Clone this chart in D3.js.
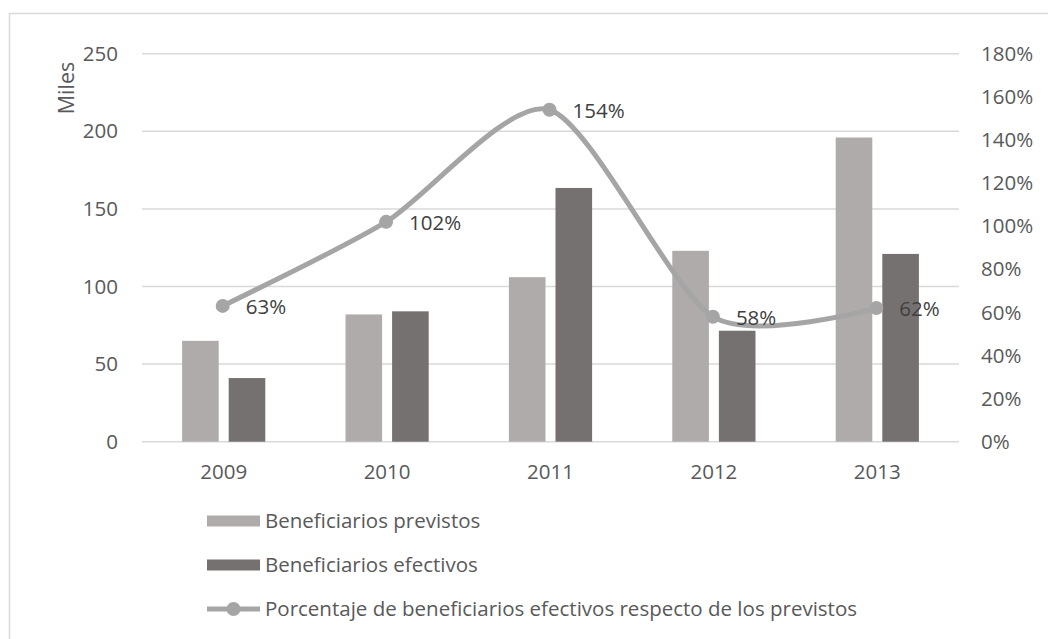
<!DOCTYPE html>
<html lang="es">
<head>
<meta charset="UTF-8">
<title>Beneficiarios</title>
<script src="https://d3js.org/d3.v7.min.js"></script>
<style>
  body { margin: 0; background: #fff; }
  text { font-family: "Open Sans", sans-serif; }
</style>
</head>
<body>
<svg id="chart" width="1048" height="639"></svg>
<script>
// data (thousands)
var years = ["2009", "2010", "2011", "2012", "2013"];
var previstos = [65, 82, 106, 123, 196];
var efectivos = [41, 84, 163.5, 71.5, 121];
var porcentaje = [63, 102, 154, 58, 62];
var leftTicks = [0, 50, 100, 150, 200, 250];
var rightTicks = [0, 20, 40, 60, 80, 100, 120, 140, 160, 180];
var legendNames = ["Beneficiarios previstos", "Beneficiarios efectivos",
  "Porcentaje de beneficiarios efectivos respecto de los previstos"];

var colLight = "#afabab", colDark = "#767171", colLine = "#a5a5a5";
var fs = 20.5;

var svg = d3.select("#chart");

// outer frame (only top and left are visible in the picture)
svg.append("rect")
  .attr("x", 9.5).attr("y", 13.5).attr("width", 1100).attr("height", 700)
  .attr("fill", "none").attr("stroke", "#d9d9d9").attr("stroke-width", 1.5);

var plotL = 142, plotR = 959, plotT = 53.7, plotB = 441.7;

var x = d3.scaleBand().domain(years).range([plotL, plotR]);
var y = d3.scaleLinear().domain([0, 250]).range([plotB, plotT]);
var y2 = d3.scaleLinear().domain([0, 180]).range([plotB, plotT]);

// gridlines
svg.append("g").selectAll("line").data(leftTicks).join("line")
  .attr("x1", plotL).attr("x2", plotR)
  .attr("y1", function(d) { return y(d); }).attr("y2", function(d) { return y(d); })
  .attr("stroke", "#d9d9d9").attr("stroke-width", 1.5);

// left axis labels
svg.append("g").selectAll("text").data(leftTicks).join("text")
  .attr("x", 118).attr("y", function(d) { return y(d); })
  .attr("dy", "0.35em").attr("text-anchor", "end")
  .attr("font-size", fs).attr("fill", "#595959")
  .text(function(d) { return d; });

// right axis labels
svg.append("g").selectAll("text").data(rightTicks).join("text")
  .attr("x", 981).attr("y", function(d) { return y2(d); })
  .attr("dy", "0.35em").attr("text-anchor", "start")
  .attr("font-size", fs).attr("fill", "#595959")
  .text(function(d) { return d + "%"; });

// category labels
svg.append("g").selectAll("text").data(years).join("text")
  .attr("x", function(d) { return x(d) + x.bandwidth() / 2; }).attr("y", 472)
  .attr("dy", "0.35em").attr("text-anchor", "middle")
  .attr("font-size", fs).attr("fill", "#595959")
  .text(function(d) { return d; });

// "Miles" title
svg.append("text")
  .attr("transform", "translate(66,88) rotate(-90)")
  .attr("text-anchor", "middle").attr("dy", "0.35em")
  .attr("font-size", fs + 1).attr("fill", "#595959")
  .text("Miles");

// bars
var barW = x.bandwidth() * 0.224, gap = 5;
svg.append("g").selectAll("rect").data(years).join("rect")
  .attr("x", function(d) { return x(d) + x.bandwidth() / 2 - gap - barW; })
  .attr("y", function(d, i) { return y(previstos[i]); })
  .attr("width", barW)
  .attr("height", function(d, i) { return plotB - y(previstos[i]); })
  .attr("fill", colLight);

svg.append("g").selectAll("rect").data(years).join("rect")
  .attr("x", function(d) { return x(d) + x.bandwidth() / 2 + gap; })
  .attr("y", function(d, i) { return y(efectivos[i]); })
  .attr("width", barW)
  .attr("height", function(d, i) { return plotB - y(efectivos[i]); })
  .attr("fill", colDark);

// smoothed percentage line
var pts = years.map(function(d, i) { return [x(d) + x.bandwidth() / 2 - 1, y2(porcentaje[i])]; });
var line = d3.line().curve(d3.curveCardinal.tension(0.25));
svg.append("path").attr("d", line(pts))
  .attr("fill", "none").attr("stroke", colLine).attr("stroke-width", 5)
  .attr("stroke-linecap", "round");

svg.append("g").selectAll("circle").data(pts).join("circle")
  .attr("cx", function(d) { return d[0]; }).attr("cy", function(d) { return d[1]; })
  .attr("r", 7).attr("fill", colLine);

svg.append("g").selectAll("text").data(pts).join("text")
  .attr("x", function(d) { return d[0] + 23; }).attr("y", function(d) { return d[1] + 1; })
  .attr("dy", "0.35em").attr("font-size", fs).attr("fill", "#404040")
  .text(function(d, i) { return porcentaje[i] + "%"; });

// legend
var legY = [521, 565, 609];
var lg = svg.append("g");
lg.append("rect").attr("x", 207).attr("y", legY[0] - 5.5).attr("width", 53).attr("height", 11).attr("fill", colLight);
lg.append("rect").attr("x", 207).attr("y", legY[1] - 5.5).attr("width", 53).attr("height", 11).attr("fill", colDark);
lg.append("line").attr("x1", 207).attr("x2", 260).attr("y1", legY[2]).attr("y2", legY[2])
  .attr("stroke", colLine).attr("stroke-width", 5);
lg.append("circle").attr("cx", 233.5).attr("cy", legY[2]).attr("r", 7).attr("fill", colLine);
lg.selectAll("text").data(legendNames).join("text")
  .attr("x", 265).attr("y", function(d, i) { return legY[i]; })
  .attr("dy", "0.35em").attr("font-size", fs).attr("fill", "#595959")
  .text(function(d) { return d; });
</script>
</body>
</html>
